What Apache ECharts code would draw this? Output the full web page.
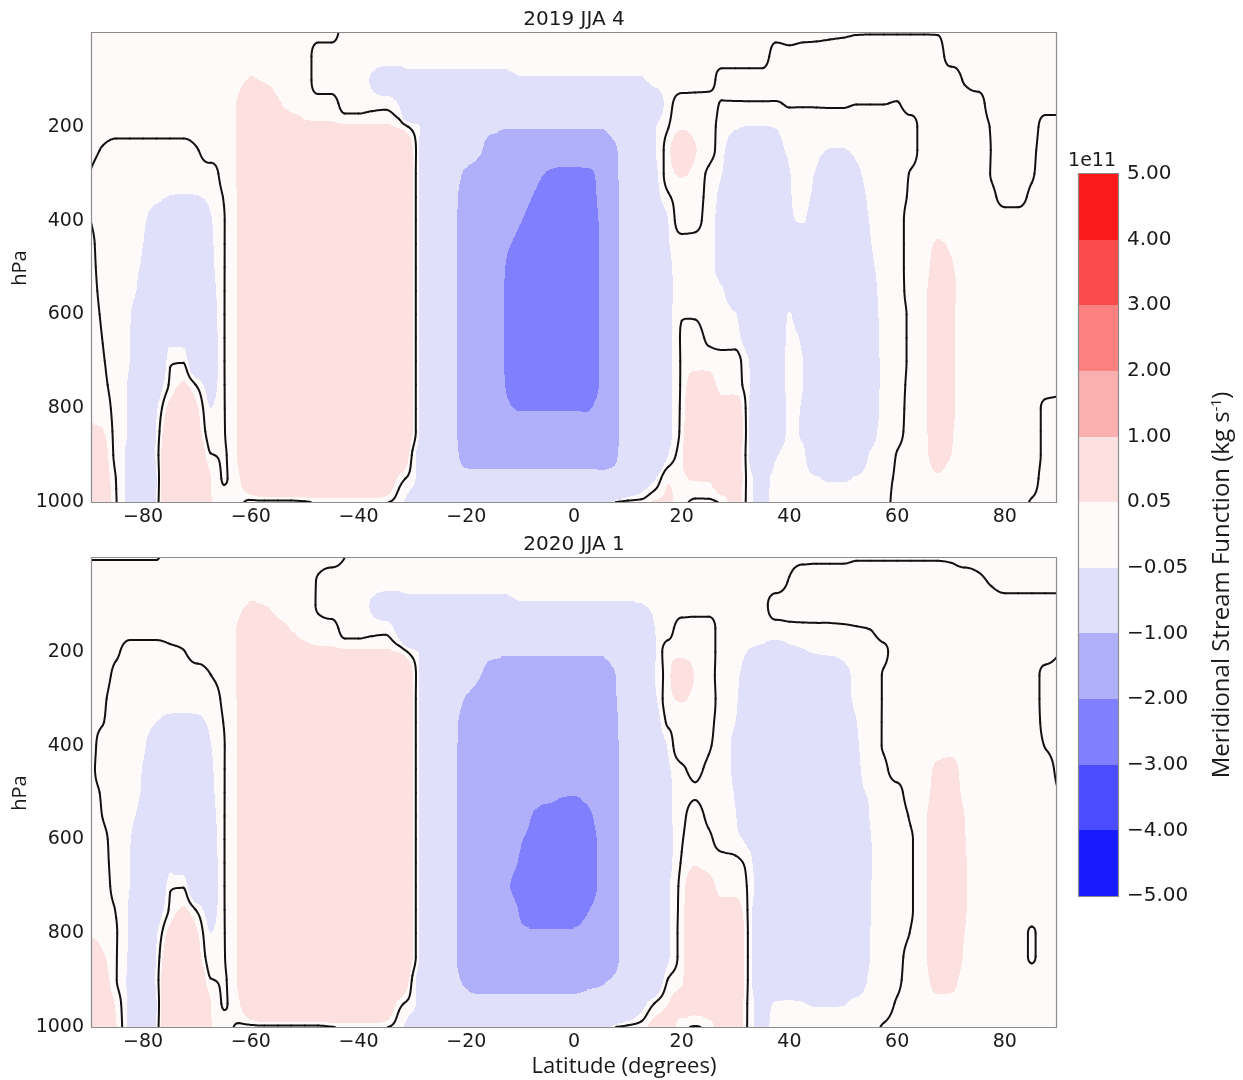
<!DOCTYPE html>
<html>
<head>
<meta charset="utf-8">
<script src="https://cdn.jsdelivr.net/npm/echarts@6/dist/echarts.min.js"></script>
<style>
html,body{margin:0;padding:0;background:#ffffff;}
#chart{width:1243px;height:1080px;}
</style>
</head>
<body>
<div id="chart"></div>
<script>
// ---------------- DATA ----------------
// latitude nodes (degrees) and pressure nodes (hPa) of the stream-function grid
const lats = [-90,-87.5,-85,-82.5,-80,-77.5,-75,-72.5,-70,-67.5,-65,-62.5,-60,-57.5,-55,-52.5,-50,-47.5,-45,-42.5,-40,-37.5,-35,-32.5,-30,-27.5,-25,-22.5,-20,-17.5,-15,-12.5,-10,-7.5,-5,-2.5,0,2.5,5,7.5,10,12.5,15,17.5,20,22.5,25,27.5,30,32.5,35,37.5,40,42.5,45,47.5,50,52.5,55,57.5,60,62.5,65,67.5,70,72.5,75,77.5,80,82.5,85,87.5,90];
const pressures = [0,50,100,150,200,250,300,350,400,450,500,550,600,650,700,750,800,850,900,950,1000];

// Meridional stream function, units of 1e9 kg/s, one row per pressure level (lat -90 -> 90)
const psi2019 = [
 [[2,2,2,2,2,2,2,2],[2,2,2,2,2,2,2,2],[2,2,2,-2,-2,-2,-2,-2],[-2,-2,-2,-2,-2,-2,-2,-2],[-2,-2,-2,-2,-2,-2,-2,-2],[-2,-2,-2,-2,-2,-2,-2,-2],[-2,-2,-2,-2,-2.5,-2,-1.6,-1],[-0.6,-0.2,-0.15,-0.15,-0.15,-0.15,-0.15,-0.2],[-2,-2,-2,-2,-2,-2,-2,-2,-2]],
 [[2,2,2,2,2,2,2,2],[2,2,2,2,2,2,2,2],[2,-2,-2,-2,-2,-2,-2,-2],[-2,-2,-2,-2,-2,-2,-2,-2],[-2,-2,-2,-2,-2,-2,-2,-2],[-2,-2,-2,-2,-2,-2,-2,-2],[-2,-2,-2,2,1.5,2,2,2],[2,2,2,2,2,2,2,2],[-2,-2,-2,-2,-2,-2,-2,-2,-2]],
 [[2,2,2,2,2,2,2,2],[2,2,2,2,6,4,2,2],[2,-2,-2,-2,-2,-6,-10,-10],[-10,-10,-10,-10,-10,-10,-10,-10],[-6,-6,-6,-6,-6,-6,-6,-6],[-6,-6,-2,-2,-2,-2,-2,2],[2,2,2,2,2,2,2,2],[2,2,2,2,2,2,2,2],[3,-0.5,-2,-2,-2,-2,-2,-2,-2]],
 [[2,2,2,2,2,2,2,2],[2,2,2,5.5,30,25,7,2],[2,2,2,-2,-2,-2,-2,-5.5],[-35,-35,-35,-35,-35,-35,-45,-45],[-45,-45,-45,-45,-45,-45,-45,-45],[-45,-45,-15,-2,2,2,2,-0.3],[-0.3,-0.3,-0.3,-0.3,0.4,0.4,0.4,0.4],[0.4,0.1,0.1,0.1,-0.2,2,2,2],[2,2,2,-2,-2,-2,-2,-2,-2]],
 [[2,2,2,2,2,2,2,2],[2,2,2,5.5,30,30,25,17],[8,6.5,6.5,6.5,6.5,6.5,6.5,4],[-2,-8,-30,-45,-55,-70,-80,-95],[-95,-95,-95,-95,-95,-95,-95,-70],[-50,-30,-6,-0.2,4,3,2,-2],[-4,-5.5,-5.5,-4.5,-2,-2,-2,-2],[-2,-2,-2,-2,-2,-2,2,2],[2,2,2,-0.3,-2,-2,-2,2,2]],
 [[2,-0.5,-2,-2,-2,-2,-2,-2],[-0.27,2,2,5.5,40,40,40,40],[40,40,40,40,40,40,40,25],[5.5,-17,-50,-50,-60,-90,-150,-150],[-150,-150,-150,-150,-150,-150,-150,-115],[-40,-25,-6,3,15,5.5,2,-3],[-15,-25,-25,-12,-3,-2,-2.5,-5.5],[-5.5,-3,-2,-2,-2,-2,2,2],[2,2,2,-0.1,-2,-2,-1,2,2]],
 [[0.1,-2,-2,-2,-2,-2,-2,-2],[-2,-2,2,5.5,40,40,40,40],[40,40,40,40,40,40,40,30],[5.5,-17,-55,-80,-110,-140,-160,-160],[-160,-175,-205,-215,-215,-210,-185,-125],[-45,-30,-8,2.5,6,3,-1,-5],[-30,-40,-40,-40,-5.5,-2,-6,-30],[-30,-8,-2,-2,-2,0.3,2,2],[2,2,2,-0.2,-2,-2,-0.5,2,2]],
 [[0.1,-2,-2,-2,-2,-3,-5.5,-6],[-5.5,-3,0.3,5.5,40,40,40,40],[40,40,40,40,40,40,40,30],[5.5,-17,-55,-88,-120,-160,-165,-165],[-170,-205,-240,-240,-240,-225,-185,-130],[-45,-35,-10,-0.8,2,2,-2,-8],[-45,-45,-45,-45,-6,-2.5,-9,-35],[-35,-15,-3,-2,-2,0.8,2,2],[2,2,2,1,-1.5,-1.5,1,2,2]],
 [[0.3,-2,-2,-2,-3.5,-15,-25,-25],[-25,-6,-0.3,5.5,40,40,40,40],[40,40,40,40,40,40,40,30],[5.5,-17,-55,-88,-125,-165,-165,-170],[-195,-240,-270,-270,-270,-240,-190,-130],[-45,-30,-15,-5,3,2,-3,-8],[-30,-45,-45,-45,-7,-4,-20,-40],[-40,-20,-4.5,-2,-2,2,2,2],[2,2,2,2,2,2,2,2,2]],
 [[2,-2,-2,-3,-5,-25,-35,-35],[-35,-7,-0.3,5.5,40,40,40,40],[40,40,40,40,40,40,40,30],[5.5,-17,-55,-88,-125,-165,-170,-190],[-230,-280,-280,-280,-280,-260,-190,-130],[-45,-30,-18,-5.5,-2,-2,-3,-10],[-45,-45,-45,-45,-30,-30,-45,-45],[-45,-45,-5.5,-2,-2,2,2,6],[4,2,2,2,2,2,2,2,2]],
 [[2,-1.5,-2,-3.5,-6,-30,-40,-40],[-40,-8,-0.3,5.5,40,40,40,40],[40,40,40,40,40,40,40,30],[5.5,-17,-55,-88,-125,-165,-170,-205],[-285,-285,-285,-285,-285,-270,-190,-130],[-45,-30,-20,-7,-2,-2,-3,-10],[-45,-45,-45,-45,-45,-45,-45,-45],[-45,-35,-8,-2,-2,2,2,10],[6,2,2,2,2,2,2,2,2]],
 [[2,-1,-2,-3,-9,-35,-45,-45],[-45,-10,-0.3,5.5,40,40,40,40],[40,40,40,40,40,40,40,30],[5.5,-17,-55,-88,-125,-165,-170,-210],[-285,-285,-285,-285,-285,-270,-190,-130],[-45,-30,-22,-8,-2,-2,-2,-4],[-20,-40,-40,-40,-40,-40,-40,-40],[-40,-35,-12,-2,-2,2,3,15],[8,2,2,2,2,2,2,2,2]],
 [[2,-0.5,-2,-4.5,-20,-45,-45,-45],[-45,-12,-0.3,5.5,40,40,40,40],[40,40,40,40,40,40,40,30],[5.5,-17,-55,-88,-125,-165,-170,-210],[-285,-285,-285,-285,-285,-270,-190,-130],[-45,-30,-22,-8,-0.3,-0.5,-2,-2.5],[-4.5,-25,-35,-25,-4,-25,-40,-40],[-40,-35,-15,-2,-2,1,3,18],[7,2,2,2,2,2,2,2,2]],
 [[2,-0.1,-2,-4.8,-18,-35,-10,-10],[-30,-12,-0.3,5.5,40,40,40,40],[40,40,40,40,40,40,40,30],[5.5,-17,-55,-88,-125,-165,-170,-210],[-285,-285,-285,-285,-285,-270,-190,-130],[-45,-30,-22,-8,0.5,2,-1,-2],[-2,-15,-35,-20,-2.5,-7,-40,-40],[-40,-35,-18,-2,-2,1,3,18],[7,2,2,2,2,2,2,2,2]],
 [[2,0.3,-2,-5,-20,-25,-0.5,-0.5],[-20,-12,-0.3,5.5,40,40,40,40],[40,40,40,40,40,40,40,30],[5.5,-17,-55,-88,-125,-165,-170,-210],[-285,-285,-285,-285,-285,-270,-190,-130],[-45,-30,-22,-8,0.5,3,3,2],[1.5,-5,-30,-18,-2.5,-5,-40,-40],[-40,-35,-20,-2,-2,1,3,18],[7,2,2,2,2,2,2,2,2]],
 [[2,0.8,-2,-6,-20,-12,1,6],[-0.8,-8,-0.3,5.5,40,40,40,40],[40,40,40,40,40,40,40,30],[5.5,-17,-55,-88,-125,-165,-170,-205],[-260,-260,-260,-260,-260,-250,-190,-130],[-45,-30,-22,-8,1,10,8,3],[2,-4,-30,-18,-2.5,-5,-40,-40],[-40,-35,-20,-2,-2,1.5,3,18],[7,2,2,2,2,2,2,2,2]],
 [[2,2,-2,-6,-20,-6,8,15],[6,-5,-0.3,5.5,40,40,40,40],[40,40,40,40,40,40,40,30],[5.5,-17,-55,-88,-125,-165,-170,-190],[-205,-205,-205,-205,-205,-205,-170,-125],[-45,-30,-22,-8,1.5,15,12,8],[10,-5,-30,-18,-3,-6,-40,-40],[-40,-35,-18,-2,-2,2,3,16],[7,2,2,2,2,2,2,-1,-2]],
 [[8,5.5,-2,-6,-20,-4,15,25],[10,-3,-0.3,5.5,40,40,40,40],[40,40,40,40,40,40,40,30],[5.5,-17,-55,-88,-125,-150,-170,-170],[-170,-170,-170,-170,-170,-170,-150,-125],[-45,-30,-20,-8,2,18,14,10],[12,-5,-30,-18,-3,-7,-40,-40],[-40,-40,-12,-2,-1.5,2,3,14],[6,2,2,2,2,2,2,-1,-2]],
 [[20,10,-2,-7,-20,-3,20,30],[20,0.3,-0.3,5.5,40,40,40,40],[40,40,40,40,40,40,40,25],[-1,-15,-50,-80,-120,-130,-130,-130],[-130,-130,-130,-130,-130,-130,-130,-115],[-40,-28,-20,-5,4,18,12,10],[10,-5,-25,-6,-2,-2.5,-30,-35],[-35,-25,-4,-2,0.2,2,3,10],[5,2,2,2,2,2,2,-1,-2]],
 [[25,12,-0.3,-8,-25,-5,25,35],[25,5.5,-0.3,3,20,30,30,30],[30,30,30,30,30,30,20,3],[-3,-15,-45,-70,-80,-80,-80,-80],[-80,-80,-80,-80,-80,-80,-80,-70],[-30,-15,-6,4.5,4,6,6,12],[12,-3,-8,-2.5,-2,-2,-4,-6],[-6,-4,-2,-1,0.5,2,2,4],[2,2,2,2,2,2,2,-2,-2]],
 [[25,15,0.3,-8,-25,-4,25,35],[25,5.5,2,2,-2,-2,-2,-2],[-1,1,1,1,1,1,0.5,-3],[-10,-20,-35,-50,-50,-50,-50,-50],[-50,-50,-50,-50,-50,-50,-20,-0.5],[2,2,6,6,2,-1,-1,1],[10,-3,-8,-2,-2,-2,-2,-2],[-2,-2,-2,-1,1,2,2,2],[2,2,2,2,2,2,-0.5,-2,-2]]
].map(r => r.flat());

const psi2020 = [
 [[-0.2,-0.2,-0.2,-0.2,-0.2,-0.2,2,2],[2,2,2,2,2,2,2,2],[2,2,2,-0.1,-2,-2,-2,-2],[-2,-2,-2,-2,-2,-2,-2,-2],[-2,-2,-2,-2,-2,-2,-2,-2],[-2,-2,-2,-2,-2,-2,-2,-2],[-2,-2,-2,-2,-1,-1,-0.8,-0.8],[-0.8,-0.3,-0.3,-0.3,-0.3,-0.3,-0.3,-0.3],[-0.6,-2,-2,-2,-2,-2,-2,-2,-2]],
 [[2,2,2,2,2,2,2,2],[2,2,2,2,2,2,2,2],[2,-0.4,-2,-2,-2,-2,-2,-2],[-2,-2,-2,-2,-2,-2,-2,-2],[-2,-2,-2,-2,-2,-2,-2,-2],[-2,-2,-2,-2,-2,-2,-2,-2],[-2,-2,-2,-2,0.3,2,2,2],[2,2,2,2,2,2,2,2],[2,2,1,-0.5,-2,-2,-2,-2,-2]],
 [[2,2,2,2,2,2,2,2],[2,2,2,2,6,5,2,2],[2,-0.5,-2,-2,-2,-6,-10,-10],[-10,-10,-10,-10,-10,-10,-10,-10],[-6,-6,-6,-6,-6,-6,-6,-6],[-6,-5.5,-2,-2,-2,-2,-2,-2],[-2,-2,-1.3,2,2,2,2,2],[2,2,2,2,2,2,2,2],[2,2,2,2,2,2,2,2,2]],
 [[2,2,2,2,2,2,2,2],[2,2,2,5.5,30,25,10,4.5],[2,2,2,-2,-2,-2,-2,-9],[-35,-35,-35,-35,-35,-35,-45,-45],[-45,-45,-45,-45,-45,-45,-45,-45],[-45,-45,-5,-2,2,2,2,-2],[-2,-2,-2,-2,-1.3,-1,-0.8,-0.6],[-0.45,-0.2,0.1,2,2,2,2,2],[2,2,2,2,2,2,2,2,2]],
 [[2,2,0.8,-2,-2,-2,-1,-0.2],[2,2,2,5.5,30,30,30,20],[10,7,6.5,6.5,6.5,6.5,6.5,4.5],[-3,-8,-30,-45,-55,-70,-80,-90],[-90,-90,-90,-90,-90,-90,-90,-65],[-50,-30,-6,2.3,3,2,2,-2],[-2,-5.5,-8,-10,-8,-6,-4,-2],[-2,-2,-2,-1,2,2,2,2],[2,2,2,2,2,2,2,2,0.3]],
 [[2,2,-1.3,-2,-2,-2,-2,-2],[-2,-0.1,2,5.5,40,40,40,40],[40,40,40,40,40,40,40,25],[5.5,-17,-50,-50,-60,-95,-140,-140],[-140,-140,-140,-140,-140,-140,-140,-105],[-40,-25,-5,3,15,4.5,2,-2],[-3,-15,-35,-35,-35,-35,-35,-35],[-10,-3,-2,0.3,2,2,2,2],[2,2,2,2,2,2,2,-1.5,-2]],
 [[2,0.8,-2,-2,-2,-2,-2,-2],[-2,-2,1.1,5.5,40,40,40,40],[40,40,40,40,40,40,40,30],[5.5,-17,-55,-80,-105,-140,-150,-150],[-150,-150,-150,-150,-150,-150,-150,-110],[-45,-30,-7,3,6,3,2,-2],[-3.5,-25,-40,-40,-40,-40,-40,-40],[-12,-3,-2,0.3,2,2,2,2],[2,2,2,2,2,2,2,-1.5,-2]],
 [[2,0.2,-2,-2,-2,-5,-8.4,-9],[-8,-3,0.2,5.5,40,40,40,40],[40,40,40,40,40,40,40,30],[5.5,-17,-55,-90,-115,-160,-160,-160],[-160,-160,-160,-160,-160,-160,-160,-120],[-45,-30,-12,1,2,2,1,-2],[-5,-30,-45,-45,-45,-45,-45,-45],[-25,-5,-2,0.3,2,2,2,2],[2,2,2,2,2,2,2,-1.2,-2]],
 [[3.5,-2,-2,-2,-3.5,-20,-30,-30],[-30,-5.5,-0.3,5.5,40,40,40,40],[40,40,40,40,40,40,40,30],[5.5,-17,-55,-90,-120,-170,-170,-170],[-170,-170,-170,-170,-170,-170,-170,-125],[-45,-30,-14,-4,4.5,3,0.5,-2],[-8,-40,-45,-45,-45,-45,-45,-45],[-30,-6,-2,0.3,2,2,2,2],[2,2,2,2,2,2,2,-0.2,-2]],
 [[2,-2,-2.5,-2.5,-5.5,-28,-38,-38],[-38,-7,-0.3,5.5,40,40,40,40],[40,40,40,40,40,40,40,30],[5.5,-17,-55,-90,-125,-170,-170,-170],[-170,-170,-170,-170,-170,-170,-170,-125],[-45,-30,-16,-6,-1,1.2,-1,-2],[-8,-40,-45,-45,-45,-45,-45,-45],[-35,-7,-2.5,-1,2,2,2,7],[9,2,2,2,2,2,2,2,-1.5]],
 [[2,-0.5,-2,-3,-6,-35,-40,-40],[-40,-8,-0.3,5.5,40,40,40,40],[40,40,40,40,40,40,40,30],[5.5,-17,-55,-90,-125,-175,-175,-175],[-175,-175,-175,-190,-195,-180,-160,-125],[-45,-30,-18,-7,-2,-0.5,-2,-2],[-6,-40,-45,-45,-45,-45,-45,-45],[-35,-8,-4,-2,-1.5,2,2,10],[12,3,2,2,2,2,2,2,0.2]],
 [[2,-0.1,-2,-3.5,-9,-38,-45,-45],[-45,-10,-0.3,5.5,40,40,40,40],[40,40,40,40,40,40,40,30],[5.5,-17,-55,-90,-125,-175,-175,-175],[-175,-205,-230,-235,-235,-215,-170,-125],[-45,-30,-18,-7,-1.5,2,-1,-2],[-4.5,-40,-45,-45,-45,-45,-45,-45],[-40,-25,-4.5,-2,-2,0.5,3,15],[18,5,2,2,2,2,2,2,2]],
 [[2,0.9,-2,-4.5,-18,-40,-45,-45],[-45,-12,-0.3,5.5,40,40,40,40],[40,40,40,40,40,40,40,30],[5.5,-17,-55,-90,-125,-175,-175,-175],[-195,-220,-240,-240,-240,-225,-185,-130],[-45,-30,-20,-8,-0.5,3,1,-2],[-2.5,-10,-40,-45,-45,-45,-45,-45],[-40,-30,-5.5,-2,-2,-0.4,3,18],[20,5.5,2,2,2,2,2,2,2]],
 [[2,1.2,-2,-5,-18,-35,-12,-12],[-30,-12,-0.3,5.5,40,40,40,40],[40,40,40,40,40,40,40,30],[5.5,-17,-55,-90,-125,-175,-175,-185],[-205,-245,-245,-245,-245,-230,-185,-130],[-45,-30,-20,-8,0.5,4.5,3,2],[1,-1.5,-25,-45,-45,-45,-45,-45],[-40,-30,-6,-2,-2,-0.4,3,18],[22,6,2,2,2,2,2,2,2]],
 [[2,1.8,-2,-5,-20,-25,-0.5,-0.5],[-20,-12,-0.3,5.5,40,40,40,40],[40,40,40,40,40,40,40,30],[5.5,-17,-55,-90,-125,-175,-175,-195],[-215,-245,-245,-245,-245,-230,-185,-130],[-45,-30,-20,-6,2,12,8,3],[3,-1,-15,-45,-45,-45,-45,-45],[-40,-30,-5.5,-2,-2,-0.4,3,18],[22,6,2,2,2,2,2,2,2]],
 [[2,2,-0.3,-6,-20,-12,1,6],[-0.8,-8,-0.3,5.5,40,40,40,40],[40,40,40,40,40,40,40,30],[5.5,-17,-55,-90,-125,-175,-175,-180],[-205,-240,-240,-240,-235,-205,-170,-125],[-45,-30,-20,-6,2.5,15,12,8],[8,-1.5,-20,-45,-45,-45,-45,-45],[-40,-30,-5.5,-2,-2,-0.4,3,18],[22,6,2,2,2,2,2,2,2]],
 [[4.5,3,0.3,-6,-20,-6,8,15],[6,-5,-0.3,5.5,40,40,40,40],[40,40,40,40,40,40,40,30],[5.5,-17,-55,-90,-125,-175,-175,-170],[-190,-190,-190,-190,-190,-175,-160,-125],[-45,-30,-20,-6,3,18,14,12],[12,-1.5,-22,-45,-45,-45,-45,-45],[-40,-30,-5,-2,-2,0.2,3,18],[20,5,2,2,2,2,-0.5,2,2]],
 [[12,6,0.3,-6.5,-20,-4,15,25],[10,-3,-0.3,5.5,40,40,40,40],[40,40,40,40,40,40,40,30],[5.5,-17,-55,-90,-125,-150,-160,-160],[-160,-160,-160,-160,-160,-160,-150,-125],[-45,-30,-20,-6,3,18,14,12],[12,-1.5,-22,-45,-45,-45,-45,-45],[-40,-30,-5,-2,-1.5,2,3,18],[18,4,2,2,2,2,-0.5,2,2]],
 [[20,10,0.3,-7,-20,-3,20,30],[20,0.3,-0.3,5.5,40,40,40,40],[40,40,40,40,40,40,40,25],[-1,-15,-50,-85,-110,-130,-130,-130],[-130,-130,-130,-130,-130,-120,-110,-90],[-40,-28,-18,0.5,4,15,12,12],[12,-1.5,-20,-40,-40,-40,-40,-40],[-35,-20,-3,-2,-1,2,2,10],[9,2,2,2,2,2,2,2,2]],
 [[25,12,3.8,-8,-25,-5,25,35],[25,5.5,-0.3,3,20,30,30,30],[30,30,30,30,30,30,20,2],[-3,-15,-45,-70,-80,-80,-80,-80],[-80,-80,-80,-80,-80,-75,-70,-50],[-25,-10,0.3,5,8,10,10,10],[12,-1.5,-8,-4,-3,-4.5,-6,-6],[-5.5,-2,-2,-2,0.5,2,2,3],[3,2,2,2,2,2,2,2,2]],
 [[25,15,5.5,-8,-25,-4,25,35],[25,5.5,2,-0.6,-2,-2,-2,-2],[-2,-2,-0.4,1,1,1,0.3,-3],[-10,-20,-35,-50,-50,-50,-50,-50],[-50,-50,-50,-50,-50,-50,-20,-0.5],[2,3,8,8,2,-0.5,2,9],[10,-1.5,-8,-2,-2,-2,-2,-2],[-2,-2,-1.5,0.5,2,2,2,2],[2,2,2,2,2,2,2,2,2]]
].map(r => r.flat());

// contour levels (1e9 kg/s) and colours of the 11 filled bands
const levelBounds = [-500,-400,-300,-200,-100,-5,5,100,200,300,400,500];
const levelColors = ['#1a1aff','#4b4bff','#8080ff','#b0b0fa','#e0e0fa','#fdfaf9','#fde0e0','#fbb0b0','#fb8080','#fb4b4b','#fb1a1a'];
const cbTickLabels = ['\u22125.00','\u22124.00','\u22123.00','\u22122.00','\u22121.00','\u22120.05','0.05','1.00','2.00','3.00','4.00','5.00'];
const latTicks = [-80,-60,-40,-20,0,20,40,60,80];
const pTicks = [200,400,600,800,1000];
const panelTitles = ['2019 JJA 4','2020 JJA 1'];

[psi2019, psi2020].forEach((g, n) => g.forEach((r, j) => { if (r.length !== lats.length) console.error('bad row', n, j, r.length); }));

// ---------------- RENDERING (filled contours of a monotone-cubic interpolated grid) ----------------
const LATMIN = -89.5, LATMAX = 89.5;
const TH = levelBounds.slice(1, -1);
function cls(v) { let k = 0; while (k < TH.length && v >= TH[k]) k++; return k; }
function slopes1D(arr) {
  const n = arr.length, m = new Array(n);
  for (let k = 0; k < n; k++) {
    const dl = k > 0 ? arr[k] - arr[k - 1] : null, dr = k < n - 1 ? arr[k + 1] - arr[k] : null;
    if (dl === null) m[k] = dr; else if (dr === null) m[k] = dl;
    else if (dl * dr <= 0) m[k] = 0; else m[k] = 2 * dl * dr / (dl + dr);
  }
  return m;
}
function herm(y0, y1, m0, m1, t) { const t2 = t * t, t3 = t2 * t; return (2 * t3 - 3 * t2 + 1) * y0 + (t3 - 2 * t2 + t) * m0 + (-2 * t3 + 3 * t2) * y1 + (t3 - t2) * m1; }
function prep(grid) { return {v: grid, mx: grid.map(row => slopes1D(row))}; }
function fieldAt(G, i, s, j, t) {
  const nP = G.v.length;
  const ux = r => herm(G.v[r][i], G.v[r][i + 1], G.mx[r][i], G.mx[r][i + 1], s);
  const a = ux(j), b = ux(j + 1), d1 = b - a;
  let ma, mb;
  if (j === 0) ma = d1; else { const d0 = a - ux(j - 1); ma = (d0 * d1 <= 0) ? 0 : 2 * d0 * d1 / (d0 + d1); }
  if (j + 1 === nP - 1) mb = d1; else { const d2 = ux(j + 2) - b; mb = (d1 * d2 <= 0) ? 0 : 2 * d1 * d2 / (d1 + d2); }
  return herm(a, b, ma, mb, t);
}
function runsOf(a, b) {
  const ca = cls(a), cb = cls(b);
  if (ca === cb) return [{c: ca, f0: 0, f1: 1}];
  const runs = []; let f = 0, c = ca;
  if (cb > ca) { for (let k = ca; k < cb; k++) { const t = (TH[k] - a) / (b - a); runs.push({c, f0: f, f1: t}); f = t; c = k + 1; } }
  else { for (let k = ca - 1; k >= cb; k--) { const t = (TH[k] - a) / (b - a); runs.push({c, f0: f, f1: t}); f = t; c = k; } }
  runs.push({c, f0: f, f1: 1});
  return runs;
}
function makeFill(G) {
  return function (params, api) {
    const i = api.value(3), j = api.value(4);
    if (i >= lats.length - 1 || j >= pressures.length - 1) return null;
    const la0 = lats[i], la1 = lats[i + 1], p0 = pressures[j], p1 = pressures[j + 1];
    const L0 = Math.max(la0, LATMIN), L1 = Math.min(la1, LATMAX);
    if (L1 <= L0) return null;
    const g = G.v;
    const v00 = g[j][i], v01 = g[j][i + 1], v10 = g[j + 1][i], v11 = g[j + 1][i + 1];
    const px = la => api.coord([la, p0])[0];
    const py = p => api.coord([0, p])[1];
    const children = [];
    const c0 = cls(v00);
    if (c0 === cls(v01) && c0 === cls(v10) && c0 === cls(v11)) {
      const x0 = Math.round(px(L0)), x1 = Math.round(px(L1)), y0 = Math.round(py(p0)), y1 = Math.round(py(p1));
      children.push({type: 'rect', shape: {x: x0, y: y0, width: x1 - x0, height: y1 - y0}, style: {fill: levelColors[c0]}});
    } else {
      const NS = 20, NXS = 16;
      for (let s = 0; s < NS; s++) {
        const tm = (s + 0.5) / NS;
        const y0 = Math.round(py(p0 + (p1 - p0) * s / NS)), y1 = Math.round(py(p0 + (p1 - p0) * (s + 1) / NS));
        if (y1 <= y0) continue;
        const w = [];
        for (let k = 0; k <= NXS; k++) w.push(fieldAt(G, i, k / NXS, j, tm));
        const runs = [];
        for (let k = 0; k < NXS; k++) {
          for (const r of runsOf(w[k], w[k + 1])) {
            const f0 = (k + r.f0) / NXS, f1 = (k + r.f1) / NXS;
            const last = runs[runs.length - 1];
            if (last && last.c === r.c) last.f1 = f1; else runs.push({c: r.c, f0, f1});
          }
        }
        for (const r of runs) {
          const l0 = Math.max(la0 + (la1 - la0) * r.f0, L0), l1 = Math.min(la0 + (la1 - la0) * r.f1, L1);
          if (l1 <= l0) continue;
          const x0 = Math.round(px(l0)), x1 = Math.round(px(l1));
          if (x1 <= x0) continue;
          children.push({type: 'rect', shape: {x: x0, y: y0, width: x1 - x0, height: y1 - y0}, style: {fill: levelColors[r.c]}});
        }
      }
    }
    return {type: 'group', children};
  };
}
function makeContour(G) {
  return function (params, api) {
    const i = api.value(3), j = api.value(4);
    if (i >= lats.length - 1 || j >= pressures.length - 1) return null;
    const g = G.v;
    const v00 = g[j][i], v01 = g[j][i + 1], v10 = g[j + 1][i], v11 = g[j + 1][i + 1];
    const npos = (v00 > 0) + (v01 > 0) + (v10 > 0) + (v11 > 0);
    if (npos === 0 || npos === 4) return null;
    const la0 = lats[i], la1 = lats[i + 1], p0 = pressures[j], p1 = pressures[j + 1];
    const NX = 10, NY = 16;
    const val = [];
    for (let b = 0; b <= NY; b++) { const row = []; for (let a = 0; a <= NX; a++) row.push(fieldAt(G, i, a / NX, j, b / NY)); val.push(row); }
    const toPx = (s, t) => api.coord([la0 + (la1 - la0) * s, p0 + (p1 - p0) * t]);
    let d = '';
    for (let b = 0; b < NY; b++) for (let a = 0; a < NX; a++) {
      const q = [val[b][a], val[b][a + 1], val[b + 1][a + 1], val[b + 1][a]];
      const cs = [[a, b], [a + 1, b], [a + 1, b + 1], [a, b + 1]];
      const pts = [];
      for (let e = 0; e < 4; e++) {
        const qa = q[e], qb = q[(e + 1) % 4];
        if ((qa > 0) !== (qb > 0)) {
          const r = qa / (qa - qb), ca = cs[e], cb = cs[(e + 1) % 4];
          pts[e] = [(ca[0] + r * (cb[0] - ca[0])) / NX, (ca[1] + r * (cb[1] - ca[1])) / NY];
        }
      }
      const edges = [0, 1, 2, 3].filter(e => pts[e]);
      let pairs = [];
      if (edges.length === 2) pairs = [[edges[0], edges[1]]];
      else if (edges.length === 4) {
        const c = (q[0] + q[1] + q[2] + q[3]) / 4;
        pairs = ((c > 0) === (q[0] > 0)) ? [[0, 1], [2, 3]] : [[3, 0], [1, 2]];
      }
      for (const [e1, e2] of pairs) {
        const A = toPx(pts[e1][0], pts[e1][1]), B = toPx(pts[e2][0], pts[e2][1]);
        d += 'M' + A[0].toFixed(2) + ' ' + A[1].toFixed(2) + 'L' + B[0].toFixed(2) + ' ' + B[1].toFixed(2);
      }
    }
    if (!d) return null;
    return {type: 'path', shape: {pathData: d}, style: {stroke: '#111111', lineWidth: 2, fill: 'none', lineCap: 'round', lineJoin: 'round'}};
  };
}
function frameItem(params) {
  const c = params.coordSys;
  return {type: 'rect', shape: {x: Math.round(c.x) - 0.5, y: Math.round(c.y) - 0.5, width: Math.round(c.width) + 1, height: Math.round(c.height) + 1},
          style: {fill: 'none', stroke: '#8c8c8c', lineWidth: 1.2}};
}
function gridData(grid) {
  const out = [];
  for (let j = 0; j < pressures.length; j++) for (let i = 0; i < lats.length; i++) out.push([lats[i], pressures[j], grid[j][i], i, j]);
  return out;
}

const tickFont = 'DejaVu Sans';
const latFmt = v => (v < 0 ? '\u2212' + Math.abs(v) : String(v));
function xAxisFor(gi) {
  return {gridIndex: gi, type: 'value', min: LATMIN, max: LATMAX,
    axisLine: {show: false}, splitLine: {show: false},
    axisTick: {show: true, customValues: latTicks, length: 4, lineStyle: {color: '#8c8c8c', width: 1}},
    axisLabel: {customValues: latTicks, formatter: latFmt, fontFamily: tickFont, fontSize: 19, color: '#1a1a1a', margin: 6}};
}
function yAxisFor(gi) {
  return {gridIndex: gi, type: 'value', inverse: true, min: 0, max: 1000,
    axisLine: {show: false}, splitLine: {show: false},
    axisTick: {show: true, customValues: pTicks, length: 4, lineStyle: {color: '#8c8c8c', width: 1}},
    axisLabel: {customValues: pTicks, formatter: v => String(v), fontFamily: tickFont, fontSize: 19, color: '#1a1a1a', margin: 8}};
}

const grids = [prep(psi2019), prep(psi2020)];
const series = [];
grids.forEach((G, k) => {
  const data = gridData(G.v);
  series.push({type: 'custom', name: panelTitles[k] + ' fill', xAxisIndex: k, yAxisIndex: k, data, encode: {x: 0, y: 1}, renderItem: makeFill(G), silent: true, z: 2, animation: false});
  series.push({type: 'custom', name: panelTitles[k] + ' zero', xAxisIndex: k, yAxisIndex: k, data, encode: {x: 0, y: 1}, renderItem: makeContour(G), clip: true, silent: true, z: 4, animation: false});
  series.push({type: 'custom', name: 'frame' + k, xAxisIndex: k, yAxisIndex: k, data: [[0, 500]], renderItem: frameItem, silent: true, z: 6, animation: false});
});
// colour bar
series.push({type: 'custom', name: 'colorbar', xAxisIndex: 2, yAxisIndex: 2, data: levelColors.map((c, k) => [0, k, k]), encode: {x: 0, y: 1},
  renderItem: (params, api) => {
    const k = api.value(2);
    const a = api.coord([0, k]), b = api.coord([1, k + 1]);
    const y0 = Math.round(b[1]), y1 = Math.round(a[1]);
    return {type: 'rect', shape: {x: a[0], y: y0, width: b[0] - a[0], height: y1 - y0}, style: {fill: levelColors[k]}};
  }, silent: true, z: 2, animation: false});
series.push({type: 'custom', name: 'frame2', xAxisIndex: 2, yAxisIndex: 2, data: [[0, 0]], renderItem: frameItem, silent: true, z: 6, animation: false});

const option = {
  backgroundColor: '#ffffff',
  animation: false,
  grid: [
    {left: 92, top: 33, width: 964, height: 469},
    {left: 92, top: 558, width: 964, height: 469},
    {left: 1079, top: 174, width: 39, height: 722}
  ],
  xAxis: [xAxisFor(0), xAxisFor(1), {gridIndex: 2, type: 'value', min: 0, max: 1, show: false}],
  yAxis: [yAxisFor(0), yAxisFor(1), {gridIndex: 2, type: 'value', min: 0, max: 11, interval: 1, position: 'right',
    axisLine: {show: false}, splitLine: {show: false},
    axisTick: {show: true, length: 4, lineStyle: {color: '#8c8c8c'}},
    axisLabel: {formatter: v => cbTickLabels[v], fontFamily: tickFont, fontSize: 20, color: '#1a1a1a', margin: 9}}],
  graphic: [
    {type: 'text', x: 574, y: 20, style: {text: panelTitles[0], fontFamily: tickFont, fontSize: 20, fill: '#1a1a1a', align: 'center', verticalAlign: 'middle'}},
    {type: 'text', x: 574, y: 545, style: {text: panelTitles[1], fontFamily: tickFont, fontSize: 20, fill: '#1a1a1a', align: 'center', verticalAlign: 'middle'}},
    {type: 'text', x: 20, y: 268, rotation: Math.PI / 2, style: {text: 'hPa', fontFamily: 'Open Sans', fontSize: 20, fill: '#1a1a1a', align: 'center', verticalAlign: 'middle'}},
    {type: 'text', x: 20, y: 793, rotation: Math.PI / 2, style: {text: 'hPa', fontFamily: 'Open Sans', fontSize: 20, fill: '#1a1a1a', align: 'center', verticalAlign: 'middle'}},
    {type: 'text', x: 624, y: 1067, style: {text: 'Latitude (degrees)', fontFamily: 'Open Sans', fontSize: 22, fill: '#1a1a1a', align: 'center', verticalAlign: 'middle'}},
    {type: 'text', x: 1116, y: 161, style: {text: '1e11', fontFamily: tickFont, fontSize: 19, fill: '#1a1a1a', align: 'right', verticalAlign: 'middle'}},
    {type: 'text', x: 1222, y: 585, rotation: Math.PI / 2, style: {text: 'Meridional Stream Function (kg s{sup|-1})', fontFamily: 'Open Sans', fontSize: 24, fill: '#1a1a1a', align: 'center', verticalAlign: 'middle',
      rich: {sup: {fontFamily: 'Open Sans', fontSize: 14, fill: '#1a1a1a', verticalAlign: 'top'}}}}
  ],
  series
};
const chart = echarts.init(document.getElementById('chart'), null, {renderer: 'canvas'});
chart.setOption(option);
</script>
</body>
</html>
